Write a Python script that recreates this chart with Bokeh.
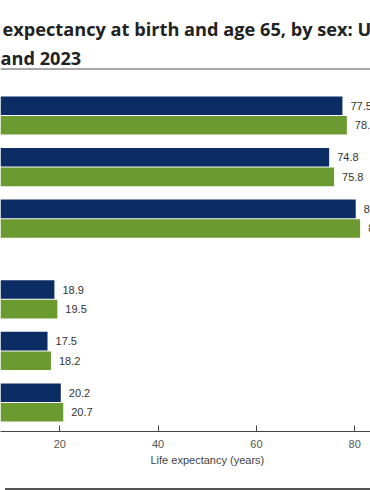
from bokeh.plotting import figure
from bokeh.models import (FactorRange, Label, Span, ColumnDataSource, FixedTicker,
                          Title, Div)
from bokeh.layouts import column
from bokeh.transform import dodge
from bokeh.embed import file_html
from bokeh.resources import INLINE
from bokeh.core.properties import value

# ---- data ----
groups = ["At birth", "At age 65"]
sexes = ["Total", "Male", "Female"]
series = ["2022", "2023"]
le_2022 = [77.5, 74.8, 80.2, 18.9, 17.5, 20.2]
le_2023 = [78.4, 75.8, 81.1, 19.5, 18.2, 20.7]
x_ticks = [0, 20, 40, 60, 80, 100]
title_line1 = "expectancy at birth and age 65, by sex: United States, 2022"
title_line2 = "and 2023"
x_label = "Life expectancy (years)"

NAVY = "#0c2c64"
GREEN = "#6b9b30"

factors = [(g, s) for g in groups for s in sexes]
src = ColumnDataSource(dict(
    cat=factors,
    v22=le_2022,
    v23=le_2023,
    l22=[f"{v:.1f}" for v in le_2022],
    l23=[f"{v:.1f}" for v in le_2023],
))

W, H = 370, 483
p = figure(
    width=W, height=H, title=None,
    y_range=FactorRange(factors=list(reversed(factors)), group_padding=0.563,
                        range_padding=0.8955, range_padding_units="absolute"),
    x_range=(7.935, 83.21),
    y_axis_location=None,
    output_backend="svg", toolbar_location=None,
    min_border_left=0, min_border_right=0, min_border_top=0, min_border_bottom=52,
)
p.outline_line_color = None
p.xgrid.visible = False
p.ygrid.visible = False
p.background_fill_color = "white"
p.border_fill_color = "white"

shift = -0.8335   # leaves room at the top of the frame for the heading
off = 0.19
bh = 0.36
p.hbar(y=dodge("cat", shift + off, range=p.y_range), left=0, right="v22", height=bh,
       source=src, fill_color=NAVY, line_color=None)
p.hbar(y=dodge("cat", shift - off, range=p.y_range), left=0, right="v23", height=bh,
       source=src, fill_color=GREEN, line_color=None)

lab_kw = dict(text_font=value("Liberation Sans"), text_font_size="11px",
              text_color="#333333", text_baseline="middle", text_align="left",
              x_offset=8, source=src)
p.text(x="v22", y=dodge("cat", shift + off, range=p.y_range), text="l22", **lab_kw)
p.text(x="v23", y=dodge("cat", shift - off, range=p.y_range), text="l23", **lab_kw)

ax = p.xaxis[0]
ax.ticker = FixedTicker(ticks=x_ticks)
ax.major_tick_in = 6
ax.major_tick_out = 0
ax.minor_tick_line_color = None
ax.axis_line_color = "#444444"
ax.major_tick_line_color = "#444444"
ax.major_label_text_font = "Liberation Sans"
ax.major_label_text_font_size = "11px"
ax.major_label_text_color = "#555555"
ax.major_label_standoff = 8

p.add_layout(Title(text=x_label, align="left", offset=150, standoff=4,
                   vertical_align="middle",
                   text_font="Liberation Sans", text_font_size="11px",
                   text_font_style="normal", text_color="#444444"), "below")

title_kw = dict(x_units="screen", y_units="screen", text_align="left",
                text_baseline="alphabetic", text_font="Open Sans",
                text_font_size="18.2px", text_font_style="bold", text_color="#222222")
p.add_layout(Label(x=2, y=403, text=title_line1, **title_kw))
p.add_layout(Label(x=0, y=373.5, text=title_line2, **title_kw))

p.add_layout(Span(location=362.5, location_units="screen", dimension="width",
                  line_color="#8a8a8a", line_width=1.5))

bottom_rule = Div(width=W, height=2, styles={"background-color": "#555555"})

layout = column(p, bottom_rule, spacing=0)
open("out.html", "w").write(file_html(layout, INLINE))
